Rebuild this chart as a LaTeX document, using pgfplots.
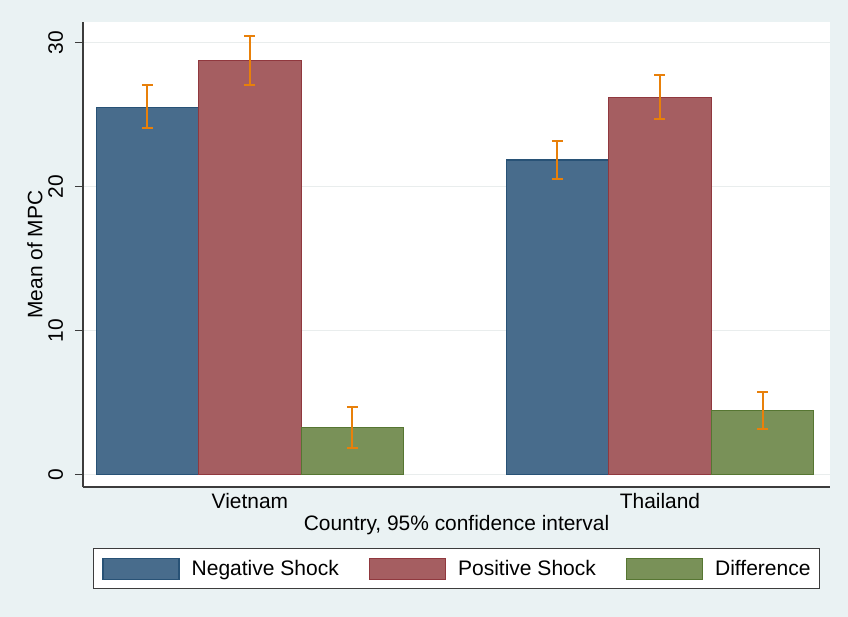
\documentclass[border=0pt]{standalone}
\usepackage{fontspec}
\setmainfont{Liberation Sans}
\usepackage{pgfplots}
\pgfplotsset{compat=1.18}
\usetikzlibrary{backgrounds,calc}
\definecolor{bg}{HTML}{EAF2F3}
\definecolor{nfill}{RGB}{72,108,140}
\definecolor{nline}{RGB}{40,82,118}
\definecolor{pfill}{RGB}{165,94,97}
\definecolor{pline}{RGB}{144,56,62}
\definecolor{dfill}{RGB}{121,145,88}
\definecolor{dline}{RGB}{86,118,50}
\definecolor{ebc}{RGB}{232,128,10}
\definecolor{axc}{RGB}{60,60,60}
\begin{document}
\begin{tikzpicture}
\begin{axis}[name=ax, scale only axis, width=747bp, height=465bp,
  xmin=-0.407, xmax=1.4146, ymin=-0.88, ymax=31.43,
  ybar=0pt, bar width=0.25,
  axis x line*=bottom, axis y line*=left,
  axis line style={axc, line width=1.2bp, -},
  xtick={0,1}, xticklabels={Vietnam,Thailand},
  x tick style={draw=none},
  ytick={0,10,20,30}, tick align=outside, major tick length=8bp,
  y tick style={axc, line width=1bp},
  ymajorgrids, grid style={bg!85!gray!60!white, line width=1.5bp},
  axis background/.style={fill=white},
  font=\fontsize{21}{25}\selectfont,
  /pgf/number format/assume math mode=true,
  yticklabel style={rotate=90, anchor=south, inner xsep=0pt, inner ysep=11.7bp},
  xticklabel style={inner sep=0pt, anchor=north, yshift=2.3bp},
  xlabel={Country, 95\% confidence interval},
  xlabel style={at={(axis description cs:0.5,-0.0602)}, anchor=north, inner sep=0pt},
  ylabel={Mean of MPC},
  ylabel style={at={(axis description cs:-0.0643,0.5)}, anchor=center, inner sep=0pt},
  legend columns=3,
  legend style={at={(axis description cs:0.5,-0.1312)}, anchor=north,
    draw=axc, line width=1bp, fill=white, font=\fontsize{21.1}{25}\selectfont,
    inner xsep=9bp, inner ysep=9bp,
    /tikz/every even column/.append style={column sep=30bp},
    /tikz/every odd column/.append style={column sep=12bp},
    nodes={inner xsep=0pt}},
  legend image code/.code={\draw[#1, line width=1.2bp] (0bp,-10.5bp) rectangle (76bp,10.5bp);},
  error bars/y dir=both, error bars/y explicit,
  error bars/error bar style={ebc, line width=2bp},
  error bars/error mark options={ebc, rotate=90, mark size=5.5bp, line width=2bp},
]
\addplot[fill=nfill, draw=nline, line width=1.2bp] coordinates {
  (0,25.50) += (0,1.55) -= (0,1.43)
  (1,21.84) += (0,1.32) -= (0,1.34)};
\addplot[fill=pfill, draw=pline, line width=1.2bp] coordinates {
  (0,28.74) += (0,1.74) -= (0,1.67)
  (1,26.17) += (0,1.61) -= (0,1.48)};
\addplot[fill=dfill, draw=dline, line width=1.2bp] coordinates {
  (0,3.24) += (0,1.46) -= (0,1.39)
  (1,4.42) += (0,1.32) -= (0,1.27)};
\legend{Negative Shock, Positive Shock, Difference}
\end{axis}
\begin{scope}[on background layer]
\fill[bg] ($(ax.south west)+(-83bp,-130bp)$) rectangle ($(ax.north east)+(18bp,22bp)$);
\end{scope}
\end{tikzpicture}
\end{document}
